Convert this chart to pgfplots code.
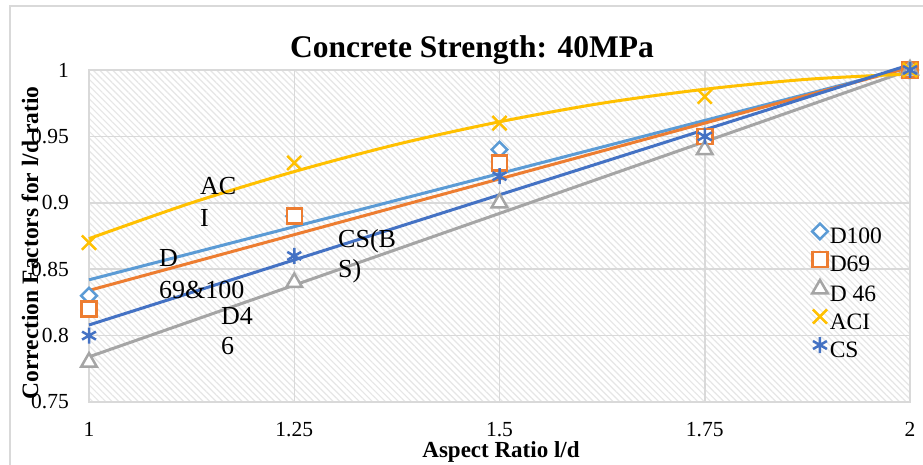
\documentclass[border=0pt]{standalone}
\usepackage{pgfplots}
\pgfplotsset{compat=1.18}
\usetikzlibrary{patterns.meta}
\usepackage{fontspec}
\setmainfont{Liberation Serif}
\definecolor{gridgray}{HTML}{D9D9D9}
\definecolor{hatch}{HTML}{E6E6E6}
\definecolor{cD100}{HTML}{5B9BD5}
\definecolor{cD69}{HTML}{ED7D31}
\definecolor{cD46}{HTML}{A5A5A5}
\definecolor{cACI}{HTML}{FFC000}
\definecolor{cCS}{HTML}{4472C4}
\begin{document}
\begin{tikzpicture}
\useasboundingbox (0pt,0pt) rectangle (923pt,465pt);
\fill[white] (0pt,0pt) rectangle (923pt,465pt);
\draw[gridgray, line width=1.5pt] (10pt,-20pt) rectangle (950pt,459pt);
\begin{axis}[
  at={(89pt,63pt)}, anchor=south west,
  scale only axis, width=821pt, height=332pt,
  xmin=1, xmax=2, ymin=0.75, ymax=1,
  clip=false,
  axis background/.style={pattern={Lines[angle=-45,distance=4.6pt,line width=1.2pt]}, pattern color=hatch},
  xtick={1,1.25,1.5,1.75,2},
  xticklabels={1,1.25,1.5,1.75,2},
  ytick={0.75,0.8,0.85,0.9,0.95,1},
  yticklabels={0.75,0.8,0.85,0.9,0.95,1},
  major tick length=0pt,
  grid=major,
  grid style={draw=gridgray, line width=1.5pt},
  axis line style={draw=gridgray, line width=1.5pt},
  tick label style={font=\fontsize{21.5}{24}\selectfont},
  xticklabel style={anchor=base, inner sep=0pt, yshift=-35pt},
  yticklabel style={anchor=east, inner sep=0pt, xshift=-20pt},
  legend style={at={(0.8806,0.5377)}, anchor=north west, draw=none, fill=none,
    font=\fontsize{23.5}{26}\selectfont, row sep=2pt, inner sep=0pt,
    nodes={inner xsep=2pt, inner ysep=0pt, text height=17pt, text depth=6pt}},
  legend cell align=left,
  legend image code/.code={\draw[mark repeat=2,mark phase=2] plot coordinates {(0pt,7pt) (7pt,7pt) (14pt,7pt)};},
]
% D100
\addplot[only marks, mark=square*, mark size=5.5pt, mark options={rotate=45, draw=cD100, fill=white, line width=2.5pt}]
  coordinates {(1,0.83) (1.25,0.89) (1.5,0.94) (1.75,0.95) (2,1.0)};
\addlegendentry{D100}
\addplot[forget plot, cD100, line width=3pt, no marks] coordinates {(1,0.842) (2,1.002)};
% D69
\addplot[only marks, mark=square*, mark size=7.5pt, mark options={draw=cD69, fill=white, line width=2.5pt}]
  coordinates {(1,0.82) (1.25,0.89) (1.5,0.93) (1.75,0.95) (2,1.0)};
\addlegendentry{D69}
\addplot[forget plot, cD69, line width=3pt, no marks] coordinates {(1,0.834) (2,1.002)};
% D46
\addplot[only marks, mark=triangle*, mark size=9pt, mark options={draw=cD46, fill=white, line width=2.5pt}]
  coordinates {(1,0.78) (1.25,0.84) (1.5,0.90) (1.75,0.94) (2,1.0)};
\addlegendentry{D 46}
\addplot[forget plot, cD46, line width=3pt, no marks] coordinates {(1,0.784) (2,1.0)};
% ACI
\addplot[only marks, mark=x, mark size=10pt, mark options={draw=cACI, line width=2.5pt}]
  coordinates {(1,0.87) (1.25,0.93) (1.5,0.96) (1.75,0.98) (2,1.0)};
\addlegendentry{ACI}
\addplot[forget plot, cACI, line width=3pt, no marks, smooth] coordinates {(1,0.873) (1.125,0.900) (1.25,0.9235) (1.375,0.944) (1.5,0.961) (1.625,0.975) (1.75,0.9855) (1.875,0.993) (2,0.997)};
% CS
\addplot[only marks, mark=asterisk, mark size=8pt, mark options={draw=cCS, line width=2.5pt}]
  coordinates {(1,0.80) (1.25,0.86) (1.5,0.92) (1.75,0.95) (2,1.0)};
\addlegendentry{CS}
\addplot[forget plot, cCS, line width=3pt, no marks] coordinates {(1,0.808) (2,1.004)};
% annotations
\begin{scope}[every node/.style={font=\fontsize{26}{28}\selectfont, anchor=base west, inner sep=0pt}]
\node at (axis cs:1.1352,0.9066) {AC};
\node at (axis cs:1.1352,0.8825) {I};
\node at (axis cs:1.0853,0.8517) {D};
\node at (axis cs:1.0853,0.8283) {69\&100};
\node at (axis cs:1.1608,0.808) {D4};
\node at (axis cs:1.1608,0.7854) {6};
\node at (axis cs:1.3033,0.866) {CS(B};
\node at (axis cs:1.3033,0.8434) {S)};
\end{scope}
\end{axis}
\node[anchor=base, font=\bfseries\fontsize{31.5}{34}\selectfont, inner sep=0pt] at (472pt,407pt) {Concrete Strength: 40MPa};
\node[anchor=base, font=\bfseries\fontsize{23}{26}\selectfont, inner sep=0pt] at (501pt,7pt) {Aspect Ratio l/d};
\node[rotate=90, anchor=base, font=\bfseries\fontsize{23.5}{26}\selectfont, inner sep=0pt] at (38pt,222pt) {Correction Factors for l/d ratio};
\end{tikzpicture}
\end{document}
